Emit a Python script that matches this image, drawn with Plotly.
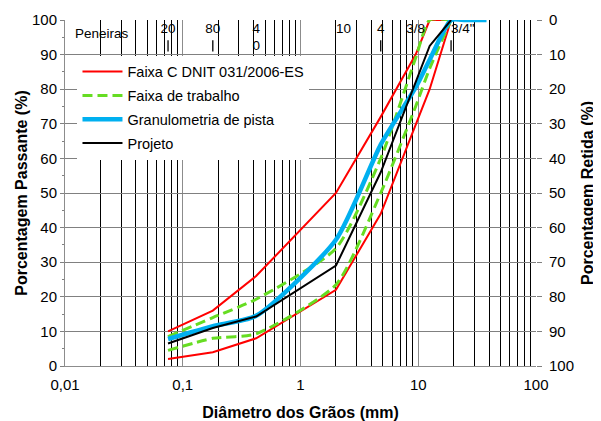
import plotly.graph_objects as go

# ---------------- data ----------------
sieve_mm = [0.075, 0.18, 0.42, 2.0, 4.8, 9.5, 12.5, 19.0]
faixa_c_sup = [10, 16, 26, 50, 72, 90, 100, 100]
faixa_c_inf = [2, 4, 8, 22, 44, 70, 80, 100]
trabalho_sup = [8.5, 14, 19.3, 34, 60, 89, 100, 100]
trabalho_inf = [4.5, 8, 9.3, 23.5, 50, 75, 86, 100]
projeto = [6.5, 11, 14.3, 29, 56, 82, 92.5, 100]

pista_mm = [0.075, 0.18, 0.42, 2.0, 4.8, 9.5, 12.5, 19.0, 25.0, 38.0]
pista = [7.8, 11.5, 14.5, 36.5, 64, 80.5, 88.5, 100, 100, 100]

peneira_mm = [0.075, 0.18, 0.42, 2.0, 4.8, 9.5, 19.0]
peneira_rot = ["20", "80", "4<br>0", "10", "4", "3/8", "3/4\""]
peneira_pos = ["bottom center", "bottom center", "bottom center", "bottom right",
               "bottom center", "bottom center", "bottom right"]
peneira_marca = [True, True, False, False, True, False, True]

x_decadas = [0.01, 0.1, 1, 10, 100]
x_decadas_txt = ["0,01", "0,1", "1", "10", "100"]
x_minor = [d * 10 ** e for e in range(-2, 2) for d in range(2, 10)]

FONT = "Liberation Sans, Arial, sans-serif"
RED = "#FF0000"
GREEN = "#66DD22"
BLUE = "#00B0F0"

fig = go.Figure()

fig.add_trace(go.Scatter(x=sieve_mm, y=faixa_c_sup, mode="lines",
                         line=dict(color=RED, width=2),
                         name="Faixa C DNIT 031/2006-ES", legendgroup="a"))
fig.add_trace(go.Scatter(x=sieve_mm, y=faixa_c_inf, mode="lines",
                         line=dict(color=RED, width=2),
                         showlegend=False, legendgroup="a"))
fig.add_trace(go.Scatter(x=sieve_mm, y=trabalho_sup, mode="lines",
                         line=dict(color=GREEN, width=3, dash="10px,5px", shape="spline", smoothing=0.6),
                         name="Faixa de trabalho", legendgroup="b"))
fig.add_trace(go.Scatter(x=sieve_mm, y=trabalho_inf, mode="lines",
                         line=dict(color=GREEN, width=3, dash="10px,5px", shape="spline", smoothing=0.6),
                         showlegend=False, legendgroup="b"))
fig.add_trace(go.Scatter(x=pista_mm, y=pista, mode="lines",
                         line=dict(color=BLUE, width=4.5, shape="spline", smoothing=0.6),
                         name="Granulometria de pista", legendgroup="c"))
fig.add_trace(go.Scatter(x=sieve_mm, y=projeto, mode="lines",
                         line=dict(color="black", width=2),
                         name="Projeto", legendgroup="d"))

# sieve labels row
fig.add_trace(go.Scatter(x=peneira_mm, y=[99.3] * len(peneira_mm), mode="text",
                         text=peneira_rot, textposition=peneira_pos,
                         textfont=dict(family=FONT, size=13.5, color="black"),
                         showlegend=False, hoverinfo="skip"))
marca_x = [m for m, f in zip(peneira_mm, peneira_marca) if f]
fig.add_trace(go.Scatter(x=marca_x, y=[92.5] * len(marca_x), mode="markers",
                         marker=dict(symbol="line-ns", size=8, color="black",
                                     line=dict(color="black", width=1.3)),
                         showlegend=False, hoverinfo="skip"))

# right axis carrier (Retida = 100 - Passante)
fig.add_trace(go.Scatter(x=sieve_mm, y=[100 - v for v in projeto], yaxis="y2",
                         mode="lines", line=dict(width=0), opacity=0,
                         showlegend=False, hoverinfo="skip"))

fig.add_annotation(x=0.018, xref="paper", y=96.2, yref="y", text="Peneiras",
                   showarrow=False, xanchor="left", yanchor="middle",
                   font=dict(family=FONT, size=13.5, color="black"))

# the page places the figure 8 px from the window's top-left corner
fig.update_layout(
    width=593, height=413,
    margin=dict(l=57, r=65, t=12, b=55),
    paper_bgcolor="white", plot_bgcolor="white",
    font=dict(family=FONT, size=15, color="black"),
    showlegend=True,
    legend=dict(x=0.0265, y=0.897, xanchor="left", yanchor="top",
                bgcolor="white", borderwidth=0,
                font=dict(family=FONT, size=14.5, color="black"),
                tracegroupgap=2, itemwidth=40),
    xaxis=dict(type="log", range=[-2, 2], automargin=False,
               tickmode="array", tickvals=x_decadas, ticktext=x_decadas_txt,
               showgrid=True, gridcolor="#8c8c8c", gridwidth=1,
               minor=dict(tickmode="array", tickvals=x_minor, showgrid=True,
                          gridcolor="black", gridwidth=1, ticks=""),
               showline=True, linecolor="#8c8c8c", linewidth=1,
               ticks="", zeroline=False, ticklabelstandoff=5,
               tickfont=dict(family=FONT, size=15),
               title=dict(text="<b>Diâmetro dos Grãos (mm)</b>", standoff=16,
                          font=dict(family=FONT, size=16))),
    yaxis=dict(range=[0, 100], dtick=10, tick0=0, automargin=False,
               showgrid=True, gridcolor="#808080", gridwidth=1,
               showline=True, linecolor="#8c8c8c", linewidth=1,
               ticks="outside", ticklen=4, tickcolor="#808080",
               minor=dict(dtick=5, ticks="outside", ticklen=2, tickcolor="#808080", showgrid=False),
               zeroline=False, tickfont=dict(family=FONT, size=15),
               title=dict(text="<b>Porcentagem Passante (%)</b>", standoff=0,
                          font=dict(family=FONT, size=16))),
    yaxis2=dict(range=[100, 0], dtick=10, tick0=0, overlaying="y", side="right",
                automargin=False,
                showgrid=False, showline=False, zeroline=False,
                ticks="outside", ticklen=5, tickcolor="#808080", ticklabelstandoff=4,
                tickfont=dict(family=FONT, size=15),
                title=dict(text="<b>Porcentagem Retida (%)</b>", standoff=8,
                           font=dict(family=FONT, size=16))),
)

fig.write_html("out.html")
